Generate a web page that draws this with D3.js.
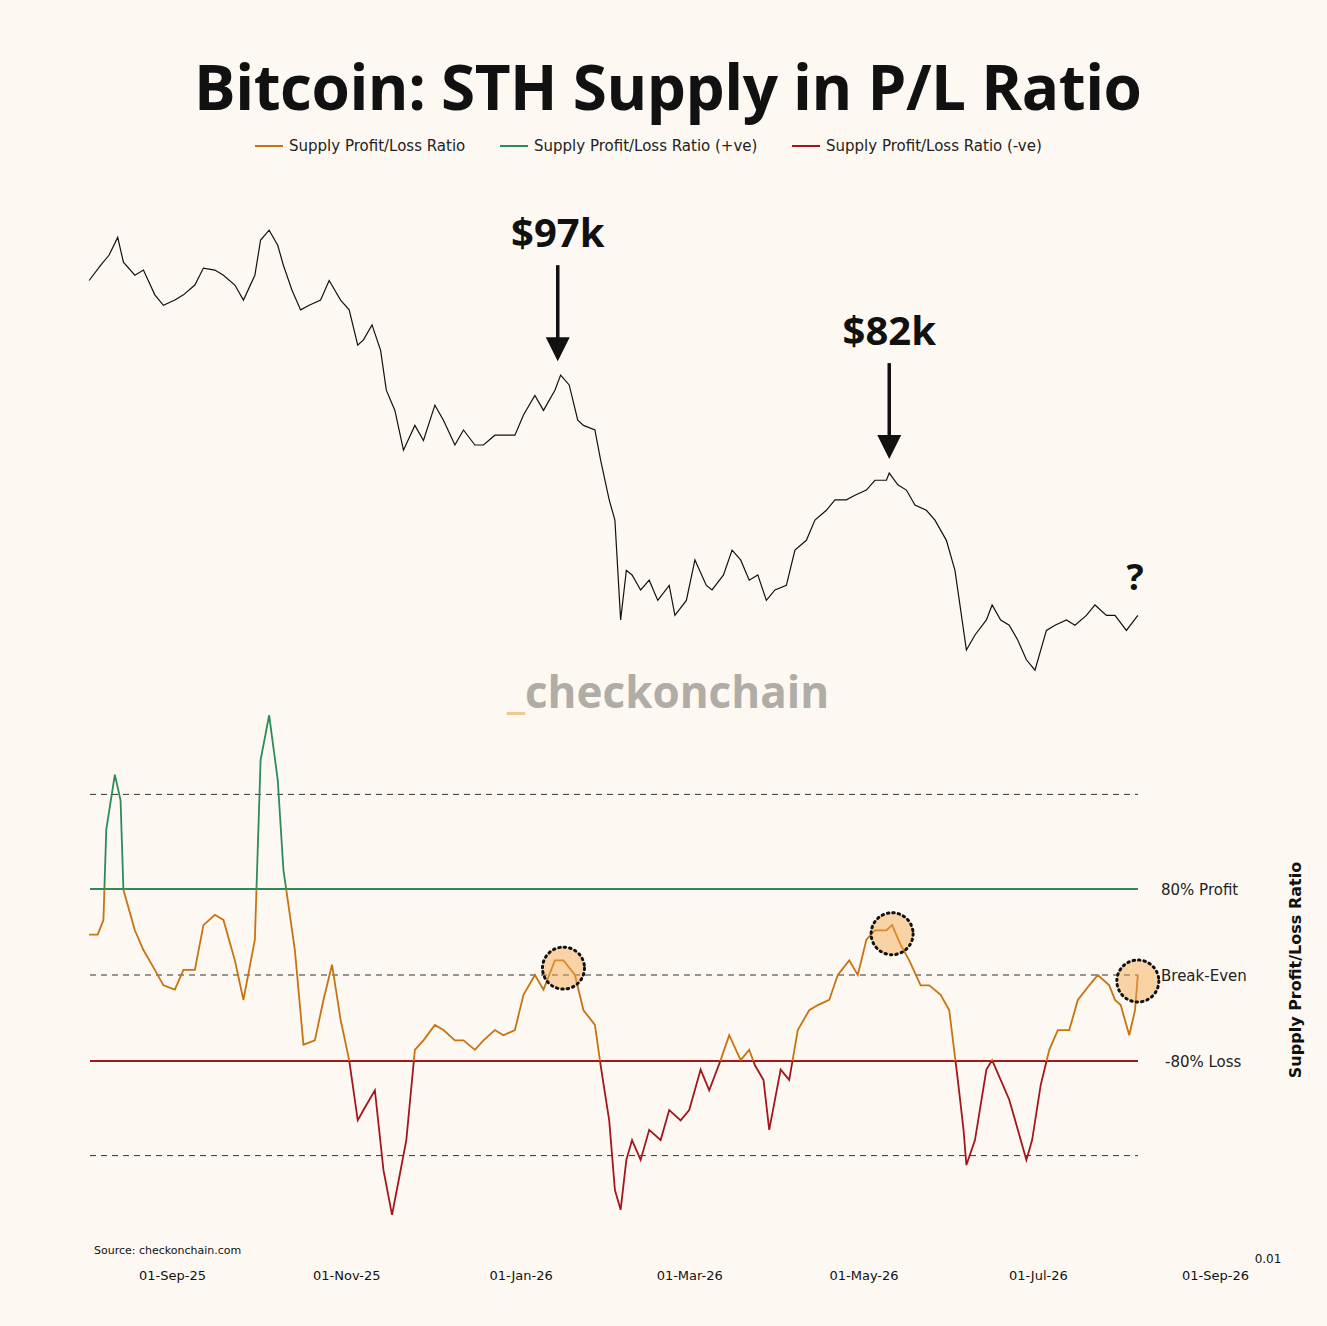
<!DOCTYPE html>
<html>
<head>
<meta charset="utf-8">
<script src="https://cdn.jsdelivr.net/npm/d3@7"></script>
<style>
body { margin: 0; background: #fdf9f2; }
svg { display: block; font-family: "DejaVu Sans", sans-serif; }
</style>
</head>
<body>
<svg id="chart" width="1327" height="1326"></svg>
<script>
// ---- data (days counted from 2025-08-03) ----
var priceDays = [0,4,7,10,12,16,19,23,26,30,33,37,40,44,47,51,54,58,60,63,66,68,71,74,77,81,84,88,91,94,96,99,102,104,107,110,114,117,121,124,128,131,135,138,142,145,149,152,156,159,163,165,168,171,173,177,179,182,184,186,188,190,193,196,199,203,205,209,212,216,218,222,225,228,231,234,237,240,244,247,251,254,258,261,265,268,272,275,279,280,283,286,289,293,296,300,303,305,307,310,314,316,319,322,325,328,331,335,338,342,345,349,352,356,359,363,367];
var priceK = [111.5,113.8,115.4,118.1,114.3,112.3,113.1,109.3,107.7,108.5,109.3,110.8,113.4,113.1,112.3,110.8,108.5,112.3,117.7,119.2,116.9,113.8,110.0,107.0,107.7,108.5,111.5,108.5,107.0,101.6,102.4,104.7,100.8,94.7,91.6,85.5,89.3,87.0,92.4,90.1,86.3,88.6,86.3,86.3,87.8,87.8,87.8,90.9,93.9,91.6,94.7,97.0,95.5,90.1,89.3,88.6,84.0,77.9,74.8,59.5,67.1,66.4,64.1,65.6,62.5,64.8,60.2,62.5,68.7,64.8,64.1,66.4,70.2,68.7,65.6,66.4,62.5,64.1,64.8,70.2,71.7,74.8,76.3,77.9,77.9,78.6,79.4,80.9,80.9,82.0,80.2,79.4,77.1,76.3,74.8,71.7,67.1,61.0,54.9,57.2,59.5,61.8,59.5,58.7,56.4,53.4,51.8,57.9,58.7,59.5,58.7,60.2,61.8,60.2,60.2,57.9,60.2];

var ratioDays = [0,3,5,6,9,11,12,16,19,23,26,30,33,37,40,44,47,51,54,58,60,63,66,68,72,75,79,82,85,88,91,94,96,100,103,106,109,111,114,117,121,124,128,131,135,138,142,145,149,152,156,159,163,166,170,173,177,179,182,184,186,188,190,193,196,200,203,207,210,214,217,221,224,228,231,233,236,238,242,245,248,252,255,259,262,266,269,272,275,279,281,284,287,291,294,298,301,304,306,307,310,314,316,319,322,325,328,330,333,336,339,343,346,350,353,357,359,361,364,366,367];
var ratio = [0.47,0.47,0.64,1.69,2.33,2.03,0.99,0.52,0.29,0.06,-0.12,-0.17,0.06,0.06,0.58,0.70,0.64,0.17,-0.29,0.41,2.50,3.02,2.27,1.22,0.29,-0.81,-0.76,-0.29,0.12,-0.52,-0.99,-1.69,-1.57,-1.34,-2.27,-2.79,-2.27,-1.92,-0.87,-0.76,-0.58,-0.64,-0.76,-0.76,-0.87,-0.76,-0.64,-0.70,-0.64,-0.23,0,-0.17,0.17,0.17,0,-0.41,-0.58,-1.05,-1.69,-2.50,-2.73,-2.15,-1.92,-2.15,-1.80,-1.92,-1.57,-1.69,-1.57,-1.10,-1.34,-0.99,-0.70,-0.99,-0.87,-1.05,-1.22,-1.80,-1.10,-1.22,-0.64,-0.41,-0.35,-0.29,0,0.17,0,0.41,0.52,0.52,0.58,0.35,0.17,-0.12,-0.12,-0.23,-0.41,-1.22,-1.80,-2.21,-1.92,-1.10,-0.99,-1.22,-1.45,-1.80,-2.15,-1.92,-1.28,-0.87,-0.64,-0.64,-0.29,-0.12,0,-0.12,-0.29,-0.35,-0.70,-0.41,0];

var tickDates = ["2025-09-01","2025-11-01","2026-01-01","2026-03-01","2026-05-01","2026-07-01","2026-09-01"];
var levels = [
    { v: 2.1, label: "", kind: "dash" },
    { v: 1, label: "80% Profit", kind: "profit" },
    { v: 0, label: "Break-Even", kind: "dash" },
    { v: -1, label: "-80% Loss", kind: "loss" },
    { v: -2.1, label: "", kind: "dash" }
];
var highlights = [{ day: 166, r: 0.08 }, { day: 281, r: 0.48 }, { day: 367, r: -0.07 }];
var callouts = [{ day: 164, price: 97, text: "$97k" }, { day: 280, price: 82, text: "$82k" }];
var seriesNames = ["Supply Profit/Loss Ratio", "Supply Profit/Loss Ratio (+ve)", "Supply Profit/Loss Ratio (-ve)"];

var ORANGE = "#c77310", GREEN = "#2e8b57", RED = "#a3161c";

var svg = d3.select("#chart");
var parse = d3.utcParse("%Y-%m-%d");
var start = parse("2025-08-03");
function dayToDate(d) { return d3.utcDay.offset(start, d); }

var x = d3.scaleUtc().domain([parse("2025-09-01"), parse("2026-09-01")]).range([172, 1215]);
var yP = d3.scaleLinear().domain([50, 120]).range([682, 225]);
var yR = d3.scaleLinear().domain([-3.5, 3.5]).range([1276, 674]);

svg.append("rect").attr("width", 1327).attr("height", 1326).attr("fill", "#fdf9f2");

// title
svg.append("text").attr("x", 668).attr("y", 110).attr("text-anchor", "middle")
    .attr("font-family", "\"Open Sans\", sans-serif").attr("textLength", 948)
    .attr("font-size", 62).attr("font-weight", "bold").attr("fill", "#111").text("Bitcoin: STH Supply in P/L Ratio");

// legend
var legX = [255, 500, 792], legCol = [ORANGE, GREEN, RED];
seriesNames.forEach(function (n, i) {
    svg.append("line").attr("x1", legX[i]).attr("x2", legX[i] + 28).attr("y1", 146).attr("y2", 146)
        .attr("stroke", legCol[i]).attr("stroke-width", 2);
    svg.append("text").attr("x", legX[i] + 34).attr("y", 151).attr("font-size", 15).attr("fill", "#222").text(n);
});

// watermark
var wm = svg.append("text").attr("x", 668).attr("y", 708).attr("text-anchor", "middle")
    .attr("font-family", "\"Open Sans\", sans-serif")
    .attr("font-size", 44).attr("font-weight", "bold");
wm.append("tspan").attr("fill", "#f0c890").text("_");
wm.append("tspan").attr("fill", "#b0aca6").text("checkonchain");

// price line
var priceData = priceDays.map(function (d, i) { return { date: dayToDate(d), v: priceK[i] }; });
svg.append("path").datum(priceData)
    .attr("fill", "none").attr("stroke", "#111").attr("stroke-width", 1.2)
    .attr("d", d3.line().x(function (d) { return x(d.date); }).y(function (d) { return yP(d.v); }));

// callouts
callouts.forEach(function (c) {
    var cx = x(dayToDate(c.day)), top = yP(c.price);
    svg.append("text").attr("x", cx).attr("y", top - 128).attr("text-anchor", "middle")
        .attr("font-family", "\"Open Sans\", sans-serif")
        .attr("font-size", 40).attr("font-weight", "bold").attr("fill", "#111").text(c.text);
    svg.append("line").attr("x1", cx).attr("x2", cx).attr("y1", top - 110).attr("y2", top - 36)
        .attr("stroke", "#111").attr("stroke-width", 3.5);
    svg.append("path").attr("d", "M" + (cx - 12) + "," + (top - 38) + "L" + (cx + 12) + "," + (top - 38) + "L" + cx + "," + (top - 14) + "Z")
        .attr("fill", "#111");
});
svg.append("text").attr("x", x(dayToDate(366))).attr("y", 590).attr("text-anchor", "middle")
    .attr("font-family", "\"Open Sans\", sans-serif")
    .attr("font-size", 36).attr("font-weight", "bold").attr("fill", "#111").text("?");

// reference levels
var x0 = 90, x1 = 1138;
levels.forEach(function (l) {
    var line = svg.append("line").attr("x1", x0).attr("x2", x1).attr("y1", yR(l.v)).attr("y2", yR(l.v));
    if (l.kind == "dash") {
        line.attr("stroke", "#333").attr("stroke-width", 1).attr("stroke-dasharray", "6,5");
    } else {
        line.attr("stroke", l.kind == "profit" ? GREEN : RED).attr("stroke-width", 2);
    }
    if (l.label) {
        svg.append("text").attr("x", l.kind == "loss" ? 1165 : 1161).attr("y", yR(l.v) + 6)
            .attr("font-size", 15).attr("fill", "#222").text(l.label);
    }
});

// ratio line coloured by zone
var ratioData = ratioDays.map(function (d, i) { return { date: dayToDate(d), v: ratio[i] }; });
var defs = svg.append("defs");
var zones = [
    { id: "zTop", y0: 0, y1: yR(1), col: GREEN },
    { id: "zMid", y0: yR(1), y1: yR(-1), col: ORANGE },
    { id: "zBot", y0: yR(-1), y1: 1326, col: RED }
];
var ratioLine = d3.line().x(function (d) { return x(d.date); }).y(function (d) { return yR(d.v); });
zones.forEach(function (z) {
    defs.append("clipPath").attr("id", z.id).append("rect")
        .attr("x", 0).attr("y", z.y0).attr("width", 1327).attr("height", z.y1 - z.y0);
    svg.append("path").datum(ratioData).attr("clip-path", "url(#" + z.id + ")")
        .attr("fill", "none").attr("stroke", z.col).attr("stroke-width", 1.8).attr("d", ratioLine);
});

// highlight circles
highlights.forEach(function (h) {
    svg.append("circle").attr("cx", x(dayToDate(h.day))).attr("cy", yR(h.r)).attr("r", 21)
        .attr("fill", "#f5a54a").attr("fill-opacity", 0.45)
        .attr("stroke", "#111").attr("stroke-width", 3).attr("stroke-dasharray", "1.5,4").attr("stroke-linecap", "round");
});

// y axis title
svg.append("text").attr("transform", "translate(1301,970) rotate(-90)").attr("text-anchor", "middle")
    .attr("font-size", 16).attr("font-weight", "bold").attr("fill", "#111").text("Supply Profit/Loss Ratio");

// x axis
var xAxis = d3.axisBottom(x).tickValues(tickDates.map(parse)).tickSize(0).tickFormat(d3.utcFormat("%d-%b-%y"));
var gx = svg.append("g").attr("transform", "translate(0,1268)").call(xAxis);
gx.select(".domain").remove();
gx.selectAll("text").attr("font-size", 13).attr("fill", "#111").attr("font-family", "\"DejaVu Sans\", sans-serif");

svg.append("text").attr("x", 94).attr("y", 1254).attr("font-size", 11).attr("fill", "#111").text("Source: checkonchain.com");
svg.append("text").attr("x", 1268).attr("y", 1263).attr("text-anchor", "middle").attr("font-size", 12).attr("fill", "#111").text("0.01");
</script>
</body>
</html>
